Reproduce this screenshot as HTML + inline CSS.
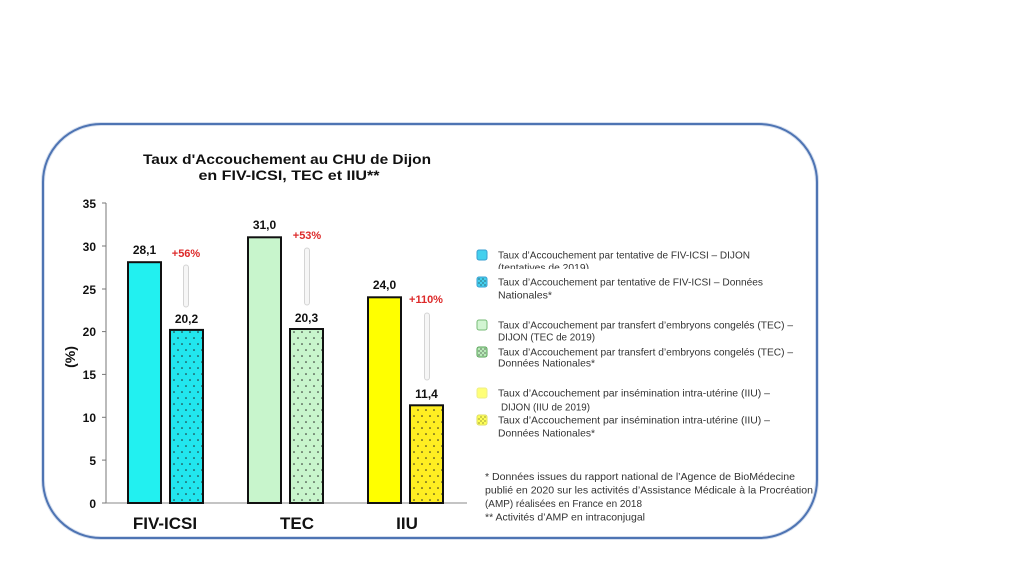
<!DOCTYPE html>
<html><head><meta charset="utf-8"><style>
html,body{margin:0;padding:0;background:#fff;}
svg{display:block;}
.t{font-family:"Liberation Sans",Arial,sans-serif;}
.b{font-weight:bold;}
.lg{font-family:"Liberation Sans",Arial,sans-serif;font-size:10.2px;fill:#333;}
</style></head><body>
<svg width="1024" height="576" viewBox="0 0 1024 576" xmlns="http://www.w3.org/2000/svg">
<defs>
<pattern id="dots" width="8" height="12" patternUnits="userSpaceOnUse">
<circle cx="2" cy="2" r="0.8" fill="#222"/>
<circle cx="6" cy="8" r="0.8" fill="#222"/>
</pattern>
<pattern id="dotsS" width="4" height="4" patternUnits="userSpaceOnUse">
<circle cx="1" cy="1" r="0.6" fill="#222"/>
<circle cx="3" cy="3" r="0.6" fill="#222"/>
</pattern>
<clipPath id="clip1"><rect x="490" y="260" width="200" height="9"/></clipPath>
</defs>
<rect width="1024" height="576" fill="#fff"/>
<!-- border -->
<rect x="43" y="124" width="774" height="414" rx="58" ry="58" fill="none" stroke="#d6dfee" stroke-width="4"/>
<rect x="43" y="124" width="774" height="414" rx="58" ry="58" fill="none" stroke="#4e74b3" stroke-width="2"/>

<!-- title -->
<text class="t b" x="287" y="164" font-size="14" text-anchor="middle" fill="#111" textLength="288" lengthAdjust="spacingAndGlyphs">Taux d'Accouchement au CHU de Dijon</text>
<text class="t b" x="289" y="180" font-size="14" text-anchor="middle" fill="#111" textLength="181" lengthAdjust="spacingAndGlyphs">en FIV-ICSI, TEC et IIU**</text>

<!-- axes -->
<line x1="106" y1="203" x2="106" y2="503" stroke="#777" stroke-width="1"/>
<line x1="106" y1="503" x2="467" y2="503" stroke="#888" stroke-width="1"/>
<g stroke="#777" stroke-width="1">
<line x1="102" y1="203" x2="106" y2="203"/>
<line x1="102" y1="246" x2="106" y2="246"/>
<line x1="102" y1="289" x2="106" y2="289"/>
<line x1="102" y1="331.6" x2="106" y2="331.6"/>
<line x1="102" y1="374.4" x2="106" y2="374.4"/>
<line x1="102" y1="417.3" x2="106" y2="417.3"/>
<line x1="102" y1="460.1" x2="106" y2="460.1"/>
<line x1="102" y1="503" x2="106" y2="503"/>
</g>
<g class="t b" font-size="12" text-anchor="end" fill="#111">
<text x="96" y="208">35</text>
<text x="96" y="251">30</text>
<text x="96" y="294">25</text>
<text x="96" y="336">20</text>
<text x="96" y="379">15</text>
<text x="96" y="422">10</text>
<text x="96" y="465">5</text>
<text x="96" y="508">0</text>
</g>
<text class="t b" font-size="14" fill="#111" text-anchor="middle" transform="translate(75,357) rotate(-90)">(%)</text>

<!-- bars -->
<g stroke="#111" stroke-width="2">
<rect x="128" y="262.2" width="33" height="240.8" fill="#22f0f0"/>
<rect x="170" y="329.9" width="33" height="173.1" fill="#22e6ee"/>
<rect x="248" y="237.3" width="33" height="265.7" fill="#c8f5cc"/>
<rect x="290" y="329" width="33" height="174" fill="#c8f5cc"/>
<rect x="368" y="297.3" width="33" height="205.7" fill="#ffff00"/>
<rect x="410" y="405.3" width="33" height="97.7" fill="#ffee22"/>
</g>
<rect x="171" y="331" width="31" height="171" fill="url(#dots)"/>
<rect x="291" y="330" width="31" height="172" fill="url(#dots)"/>
<rect x="411" y="406.3" width="31" height="95.7" fill="url(#dots)"/>

<!-- value labels -->
<g class="t b" font-size="12" text-anchor="middle" fill="#111">
<text x="144.5" y="254">28,1</text>
<text x="186.5" y="323">20,2</text>
<text x="264.5" y="229">31,0</text>
<text x="306.5" y="322">20,3</text>
<text x="384.5" y="289">24,0</text>
<text x="426.5" y="398">11,4</text>
</g>
<!-- percentages -->
<g class="t b" font-size="11" text-anchor="middle" fill="#dd2a2a">
<text x="186" y="257">+56%</text>
<text x="307" y="239">+53%</text>
<text x="426" y="303">+110%</text>
</g>
<!-- capsules -->
<g fill="#f6f6f6" stroke="#d4d4d4" stroke-width="1">
<rect x="183.5" y="265" width="5" height="42" rx="2.5"/>
<rect x="304.5" y="248" width="5" height="57" rx="2.5"/>
<rect x="424.5" y="313" width="5" height="67" rx="2.5"/>
</g>

<!-- category labels -->
<g class="t b" font-size="17" text-anchor="middle" fill="#111">
<text x="165" y="529">FIV-ICSI</text>
<text x="297" y="529">TEC</text>
<text x="407" y="529">IIU</text>
</g>

<!-- legend markers -->
<rect x="477" y="250" width="10" height="10" rx="2" fill="#44d0ee" stroke="#3a9fd0" stroke-width="1"/>
<rect x="477" y="277" width="10" height="10" rx="2" fill="#44d0ee" stroke="#3a9fd0" stroke-width="1"/>
<rect x="478" y="278" width="8" height="8" fill="url(#dotsS)"/>
<rect x="477" y="320" width="10" height="10" rx="2" fill="#d2f5d2" stroke="#77bb77" stroke-width="1"/>
<rect x="477" y="347" width="10" height="10" rx="2" fill="#b8eab8" stroke="#55a055" stroke-width="1"/>
<rect x="478" y="348" width="8" height="8" fill="url(#dotsS)"/>
<rect x="477" y="388" width="10" height="10" rx="2" fill="#ffff77" stroke="#eeee88" stroke-width="1"/>
<rect x="477" y="415" width="10" height="10" rx="2" fill="#ffff55" stroke="#dddd66" stroke-width="1"/>
<rect x="478" y="416" width="8" height="8" fill="url(#dotsS)" opacity="0.8"/>

<!-- legend text -->
<text class="lg" x="498" y="258.5" textLength="252" lengthAdjust="spacingAndGlyphs">Taux d’Accouchement par tentative de FIV-ICSI – DIJON</text>
<text class="lg" x="498" y="271" clip-path="url(#clip1)" textLength="91" lengthAdjust="spacingAndGlyphs">(tentatives de 2019)</text>
<text class="lg" x="498" y="285.5" textLength="265" lengthAdjust="spacingAndGlyphs">Taux d’Accouchement par tentative de FIV-ICSI – Données</text>
<text class="lg" x="498" y="298.5" textLength="54" lengthAdjust="spacingAndGlyphs">Nationales*</text>
<text class="lg" x="498" y="328.5" textLength="295" lengthAdjust="spacingAndGlyphs">Taux d’Accouchement par transfert d’embryons congelés (TEC) –</text>
<text class="lg" x="498" y="340.5" textLength="97" lengthAdjust="spacingAndGlyphs">DIJON  (TEC de 2019)</text>
<text class="lg" x="498" y="355.5" textLength="295" lengthAdjust="spacingAndGlyphs">Taux d’Accouchement par transfert d’embryons congelés (TEC) –</text>
<text class="lg" x="498" y="366.5" textLength="97" lengthAdjust="spacingAndGlyphs">Données Nationales*</text>
<text class="lg" x="498" y="396.5" textLength="272" lengthAdjust="spacingAndGlyphs">Taux d’Accouchement par insémination intra-utérine (IIU) –</text>
<text class="lg" x="501" y="410.5" textLength="89" lengthAdjust="spacingAndGlyphs">DIJON (IIU de 2019)</text>
<text class="lg" x="498" y="423.5" textLength="272" lengthAdjust="spacingAndGlyphs">Taux d’Accouchement par insémination intra-utérine (IIU) –</text>
<text class="lg" x="498" y="436.5" textLength="97" lengthAdjust="spacingAndGlyphs">Données Nationales*</text>

<!-- footnote -->
<text class="lg" x="485" y="480" textLength="310" lengthAdjust="spacingAndGlyphs">* Données issues du rapport national de l’Agence de BioMédecine</text>
<text class="lg" x="485" y="493.5" textLength="328" lengthAdjust="spacingAndGlyphs">publié en 2020 sur les activités d’Assistance Médicale à la Procréation</text>
<text class="lg" x="485" y="507" textLength="157" lengthAdjust="spacingAndGlyphs">(AMP) réalisées en France en 2018</text>
<text class="lg" x="485" y="520.5" textLength="160" lengthAdjust="spacingAndGlyphs">** Activités d’AMP en intraconjugal</text>
</svg>
</body></html>
